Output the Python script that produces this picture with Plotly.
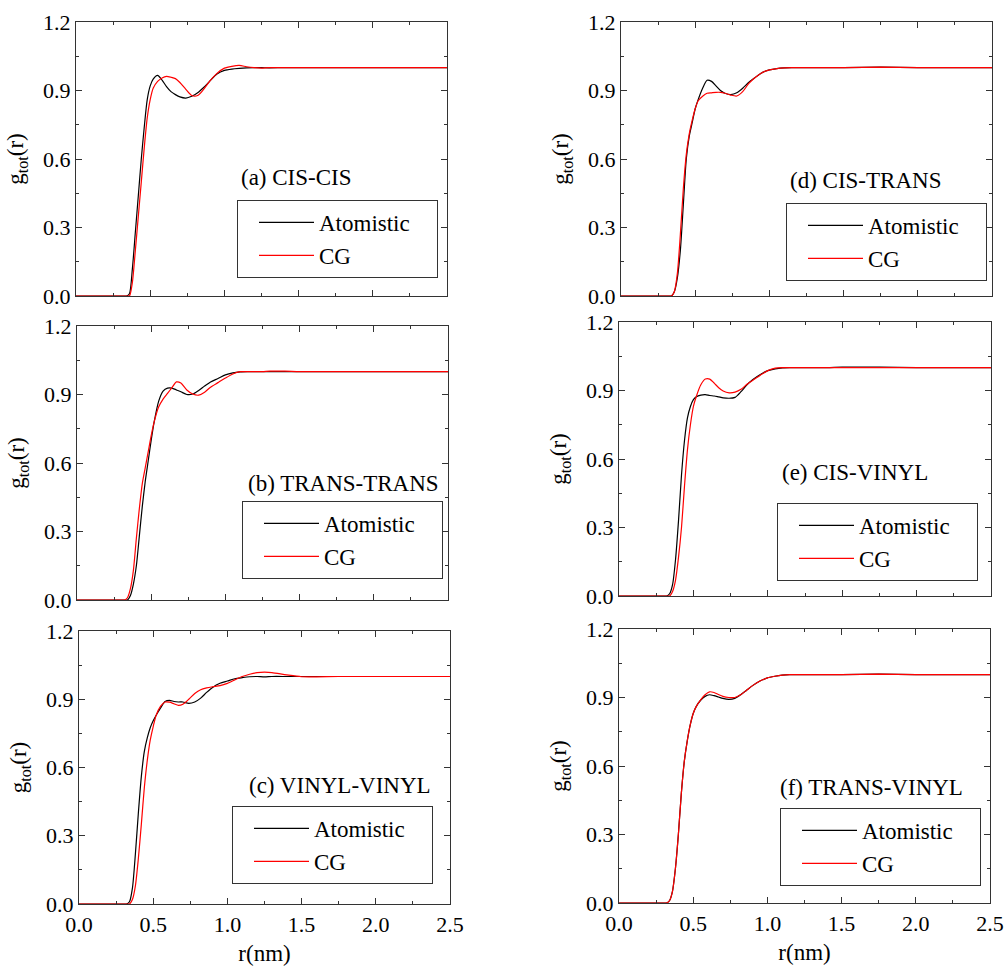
import plotly.graph_objects as go

# ---------------- data ----------------
R = [0.0, 0.30, 0.32, 0.34, 0.36, 0.38, 0.40, 0.42, 0.44, 0.46, 0.48, 0.50, 0.52,
     0.55, 0.58, 0.61, 0.64, 0.67, 0.70, 0.74, 0.78, 0.82, 0.86, 0.90, 0.95, 1.00,
     1.05, 1.10, 1.15, 1.20, 1.25, 1.30, 1.40, 1.50, 1.75, 2.00, 2.25, 2.50]

A_ATOM = [0, 0, 0, 0, 0.01, 0.12, 0.28, 0.44, 0.60, 0.74, 0.86, 0.92, 0.95,
          0.966, 0.945, 0.917, 0.895, 0.882, 0.872, 0.867, 0.875, 0.89, 0.913, 0.94, 0.972, 0.988,
          0.994, 0.997, 0.999, 1.0, 1.0, 0.999, 1.0, 1.0, 1.0, 1.0, 1.0, 1.0]
A_CG = [0, 0, 0, 0, 0.0, 0.06, 0.20, 0.35, 0.50, 0.65, 0.78, 0.86, 0.91,
        0.94, 0.955, 0.962, 0.958, 0.952, 0.935, 0.905, 0.878, 0.878, 0.905, 0.94, 0.975, 0.998,
        1.006, 1.01, 1.004, 1.0, 0.998, 1.0, 1.0, 1.0, 1.0, 1.0, 1.0, 1.0]

B_ATOM = [0, 0, 0, 0, 0.02, 0.07, 0.15, 0.28, 0.41, 0.52, 0.61, 0.70, 0.78,
          0.87, 0.915, 0.928, 0.928, 0.92, 0.912, 0.90, 0.902, 0.918, 0.937, 0.955, 0.97, 0.986,
          0.995, 0.999, 1.0, 1.0, 1.0, 1.0, 1.0, 1.0, 1.0, 1.0, 1.0, 1.0]
B_CG = [0, 0, 0, 0.01, 0.05, 0.13, 0.27, 0.40, 0.51, 0.58, 0.65, 0.72, 0.78,
        0.845, 0.88, 0.905, 0.93, 0.955, 0.95, 0.92, 0.902, 0.897, 0.91, 0.932, 0.952, 0.972,
        0.99, 1.0, 1.0, 1.0, 1.0, 1.002, 1.002, 1.0, 1.0, 1.0, 1.0, 1.0]

C_ATOM = [0, 0, 0, 0.01, 0.07, 0.22, 0.40, 0.56, 0.67, 0.73, 0.775, 0.805, 0.83,
          0.862, 0.89, 0.895, 0.89, 0.888, 0.888, 0.882, 0.888, 0.905, 0.93, 0.952, 0.97, 0.98,
          0.99, 0.995, 0.999, 1.0, 0.998, 1.0, 1.0, 1.0, 1.0, 1.0, 1.0, 1.0]
C_CG = [0, 0, 0, 0, 0.02, 0.08, 0.20, 0.35, 0.51, 0.63, 0.72, 0.78, 0.83,
        0.87, 0.888, 0.887, 0.88, 0.873, 0.878, 0.90, 0.925, 0.942, 0.95, 0.955, 0.96, 0.97,
        0.985, 1.0, 1.01, 1.017, 1.019, 1.017, 1.007, 0.999, 1.0, 1.0, 1.0, 1.0]

D_ATOM = [0, 0, 0, 0, 0.02, 0.08, 0.20, 0.40, 0.60, 0.70, 0.76, 0.82, 0.86,
          0.91, 0.945, 0.94, 0.92, 0.90, 0.888, 0.882, 0.89, 0.91, 0.935, 0.955, 0.978, 0.99,
          0.996, 0.999, 1.0, 1.0, 1.0, 1.0, 1.0, 1.0, 1.002, 1.0, 1.0, 1.0]
D_CG = [0, 0, 0, 0, 0.02, 0.10, 0.27, 0.47, 0.62, 0.71, 0.77, 0.82, 0.855,
        0.875, 0.888, 0.89, 0.892, 0.892, 0.888, 0.88, 0.876, 0.895, 0.93, 0.955, 0.978, 0.99,
        0.996, 0.999, 1.0, 1.0, 1.0, 1.0, 1.0, 1.0, 1.002, 1.0, 1.0, 1.0]

E_ATOM = [0, 0, 0, 0.01, 0.05, 0.16, 0.33, 0.53, 0.68, 0.78, 0.83, 0.86, 0.873,
          0.88, 0.882, 0.878, 0.876, 0.872, 0.868, 0.866, 0.87, 0.895, 0.925, 0.948, 0.97, 0.987,
          0.995, 0.999, 1.0, 1.0, 1.0, 1.0, 1.0, 1.002, 1.002, 1.0, 1.0, 1.0]
E_CG = [0, 0, 0, 0, 0.02, 0.07, 0.17, 0.30, 0.48, 0.64, 0.75, 0.83, 0.875,
        0.925, 0.95, 0.95, 0.932, 0.912, 0.898, 0.89, 0.893, 0.905, 0.927, 0.945, 0.967, 0.987,
        0.998, 1.0, 1.0, 1.0, 1.0, 1.0, 1.0, 1.0, 1.0, 1.0, 1.0, 1.0]

F_ATOM = [0, 0, 0, 0.01, 0.05, 0.15, 0.30, 0.48, 0.62, 0.71, 0.78, 0.83, 0.86,
          0.888, 0.905, 0.912, 0.908, 0.902, 0.896, 0.892, 0.896, 0.912, 0.932, 0.952, 0.972, 0.986,
          0.993, 0.998, 1.0, 1.0, 1.0, 1.0, 1.0, 1.0, 1.002, 1.0, 1.0, 1.0]
F_CG = [0, 0, 0, 0.01, 0.05, 0.15, 0.30, 0.48, 0.62, 0.71, 0.78, 0.83, 0.86,
        0.89, 0.912, 0.925, 0.922, 0.913, 0.905, 0.90, 0.90, 0.912, 0.932, 0.952, 0.972, 0.986,
        0.993, 0.998, 1.0, 1.0, 1.0, 1.0, 1.0, 1.0, 1.002, 1.0, 1.0, 1.0]

PANEL_LABELS = ["(a) CIS-CIS", "(b) TRANS-TRANS", "(c) VINYL-VINYL",
                "(d) CIS-TRANS", "(e) CIS-VINYL", "(f) TRANS-VINYL"]
SERIES_NAMES = ["Atomistic", "CG"]
X_TICKS = [0.0, 0.5, 1.0, 1.5, 2.0, 2.5]
Y_TICKS = [0.0, 0.3, 0.6, 0.9, 1.2]

ATOM = [A_ATOM, B_ATOM, C_ATOM, D_ATOM, E_ATOM, F_ATOM]
CG = [A_CG, B_CG, C_CG, D_CG, E_CG, F_CG]

# ---------------- layout geometry (pixels) ----------------
W, H = 1007, 966
FONT = "Liberation Serif, Times New Roman, Times, serif"
# plot areas: (left, right, top, bottom)
AREAS = [(76, 447, 22, 296), (77, 448, 326, 600), (79, 450, 631, 904),
         (621, 992, 22, 296), (619, 991, 322, 596), (619, 990, 629, 903)]
LABEL_POS = [(296, 178), (343, 483), (340, 785), (865, 180), (855, 472), (871, 787)]
LEGEND_POS = [(237, 200), (242, 501), (232, 806), (786, 203), (777, 503), (780, 808)]
BOTTOM = [False, False, True, False, False, True]

fig = go.Figure()
layout = dict(
    width=W, height=H, margin=dict(l=0, r=0, t=0, b=0, autoexpand=False),
    paper_bgcolor="white", plot_bgcolor="white",
    font=dict(family=FONT, size=22, color="black"),
    annotations=[],
)

for i in range(6):
    n = "" if i == 0 else str(i + 1)
    xa, ya = "x" + n, "y" + n
    leg = "legend" + n
    for name, vals, col in ((SERIES_NAMES[0], ATOM[i], "#000000"),
                            (SERIES_NAMES[1], CG[i], "#ff0000")):
        fig.add_trace(go.Scatter(
            x=R, y=vals, mode="lines", name=name + "\u00a0" * 3 + "\u2009",
            line=dict(color=col, width=1.2, shape="spline", smoothing=0.7),
            xaxis=xa, yaxis=ya, legend=leg, showlegend=True,
        ))
    l, r, t, b = AREAS[i]
    common = dict(showline=True, linecolor="#333", linewidth=1.3, mirror="allticks",
                  ticks="inside", ticklen=6, tickwidth=1.2, tickcolor="#333",
                  showgrid=False, zeroline=False, automargin=False,
                  tickfont=dict(family=FONT, size=22, color="black"))
    minor = dict(ticks="inside", ticklen=3, tickwidth=1, tickcolor="#333", showgrid=False)
    xaxis = dict(
        domain=[l / W, r / W], anchor=ya, range=[0, 2.5], tickvals=X_TICKS,
        tickformat=".1f", showticklabels=BOTTOM[i],
        minor=dict(minor, dtick=0.25, tick0=0), **common)
    if BOTTOM[i]:
        xaxis["title"] = dict(text="r(nm)", font=dict(family=FONT, size=23), standoff=9)
    layout["xaxis" + n] = xaxis
    layout["yaxis" + n] = dict(
        domain=[1 - b / H, 1 - t / H], anchor=xa, range=[0, 1.2], tickvals=Y_TICKS,
        tickformat=".1f",
        title=dict(text="g<sub>tot</sub>(r)", font=dict(family=FONT, size=23), standoff=12),
        minor=dict(minor, dtick=0.15, tick0=0), **common)
    lx, ly = LEGEND_POS[i]
    layout[leg] = dict(x=lx / W, y=1 - ly / H, xanchor="left", yanchor="top",
                       bgcolor="rgba(0,0,0,0)", bordercolor="#333", borderwidth=1,
                       font=dict(family=FONT, size=23, color="black"),
                       itemwidth=55, indentation=16, tracegroupgap=0)
    ax, ay = LABEL_POS[i]
    layout["annotations"].append(dict(
        x=ax / W, y=1 - ay / H, xref="paper", yref="paper", showarrow=False,
        text=PANEL_LABELS[i], font=dict(family=FONT, size=23, color="black"),
        xanchor="center", yanchor="middle"))

fig.update_layout(**layout)
fig.write_html("out.html")
